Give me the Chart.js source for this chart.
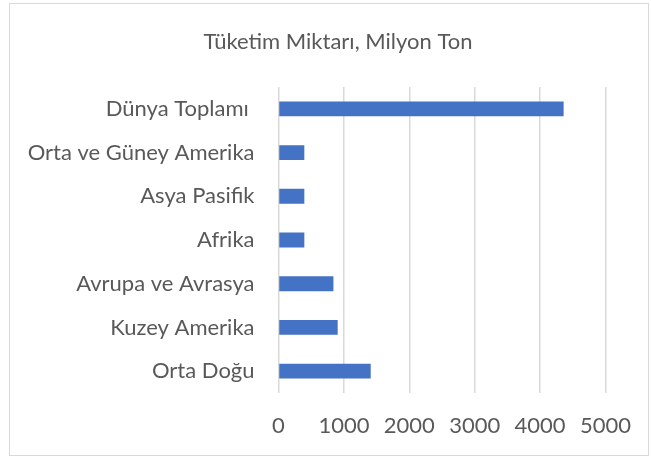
<!DOCTYPE html>
<html>
<head>
<meta charset="utf-8">
<script src="https://cdn.jsdelivr.net/npm/chart.js@4"></script>
<style>
  html, body { margin: 0; padding: 0; background: #fff; }
  #wrap { position: relative; width: 651px; height: 459px; }
  #frame { position: absolute; left: 9px; top: 3px; width: 638px; height: 451px; border: 1px solid #d9d9d9; }
  canvas { position: absolute; left: 0; top: 0; }
</style>
</head>
<body>
<div id="wrap">
  <div id="frame"></div>
  <canvas id="myChart" width="651" height="459"></canvas>
</div>
<script>
const titleText = "Tüketim Miktarı, Milyon Ton";
const regions = [
  "Dünya Toplamı ",
  "Orta ve Güney Amerika",
  "Asya Pasifik",
  "Afrika",
  "Avrupa ve Avrasya",
  "Kuzey Amerika",
  "Orta Doğu",
];
const consumption = [4360, 395, 395, 395, 840, 905, 1410];
const xMin = 0;
const xMax = 5000;
const xStep = 1000;

const textColor = "#595959";
const gridColor = "#d9d9d9";

// title centred over the whole frame, like the Excel chart
const frameTitle = {
  id: "frameTitle",
  afterDraw(chart) {
    const c = chart.ctx;
    c.save();
    c.fillStyle = textColor;
    c.font = "22px Lato";
    c.textAlign = "center";
    c.textBaseline = "middle";
    c.fillText(titleText, 338, 42);
    c.restore();
  },
};

const ctx = document.getElementById("myChart");

new Chart(ctx, {
  type: "bar",
  data: {
    labels: regions,
    datasets: [
      {
        label: titleText,
        data: consumption,
        backgroundColor: "#4472c4",
        borderWidth: 0,
        categoryPercentage: 1,
        barPercentage: 0.34,
      },
    ],
  },
  plugins: [frameTitle],
  options: {
    indexAxis: "y",
    responsive: false,
    animation: false,
    layout: {
      padding: { left: 10, right: 40, top: 87, bottom: 0 },
    },
    plugins: {
      legend: { display: false },
      tooltip: { enabled: false },
      title: { display: false },
    },
    scales: {
      x: {
        min: xMin,
        max: xMax,
        ticks: {
          stepSize: xStep,
          color: textColor,
          font: { family: "Lato", size: 22 },
          padding: 20,
          callback: (value) => String(value),
        },
        grid: { color: gridColor, lineWidth: 1.5, drawTicks: false },
        border: { display: false },
        afterFit: (scale) => {
          scale.height = 66;
        },
      },
      y: {
        ticks: {
          color: textColor,
          font: { family: "Lato", size: 22 },
          padding: 24,
        },
        grid: { display: false, drawTicks: false },
        border: { display: false },
        afterFit: (scale) => {
          scale.width = 268.5;
        },
      },
    },
  },
});
</script>
</body>
</html>
